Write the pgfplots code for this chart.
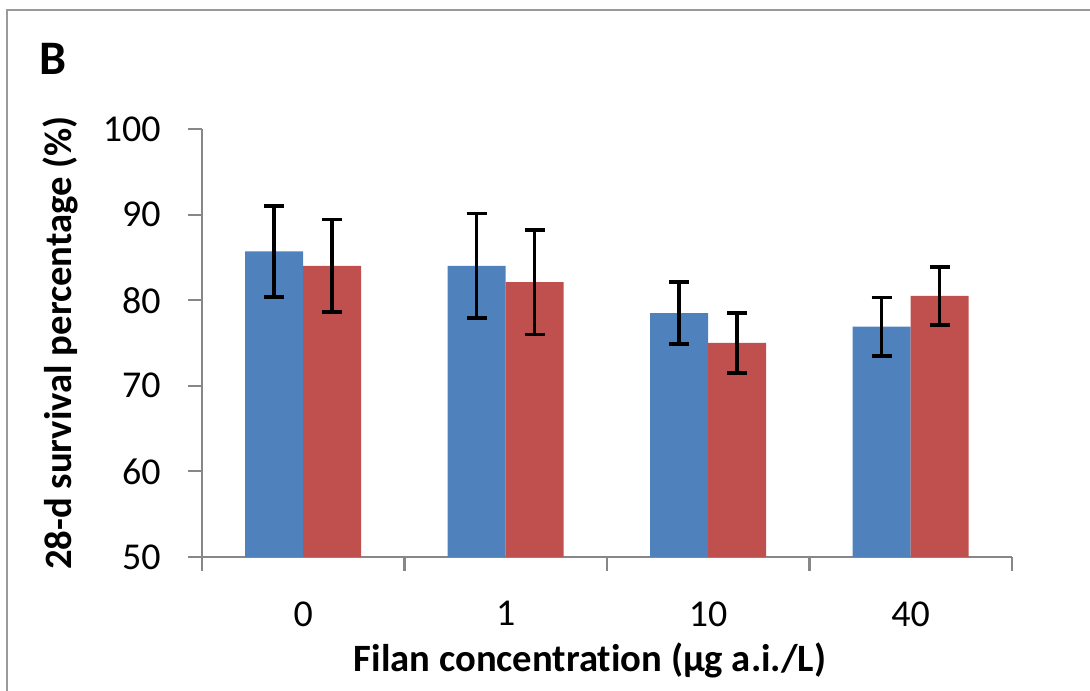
\documentclass[border=0pt]{standalone}
\usepackage{pgfplots}
\pgfplotsset{compat=1.18}
\usepackage{pgfplotstable}
\usepackage{fontspec}
\setmainfont{Carlito}[Ligatures={NoCommon}]

\definecolor{xlblue}{HTML}{4F81BD}
\definecolor{xlred}{HTML}{C0504D}
\definecolor{axgray}{HTML}{878787}
\definecolor{framegray}{HTML}{9A9A9A}

% x = concentration index, mean and error for the two series
\pgfplotstableread{
x  a     ae   b     be
0  85.7  5.3  84.0  5.4
1  84.0  6.1  82.1  6.1
2  78.5  3.6  75.0  3.5
3  76.9  3.4  80.5  3.4
}\survival

\begin{document}
\begin{tikzpicture}
\useasboundingbox (0,0) rectangle (10.9,6.91);
% chart area frame (cut off at right and bottom)
\draw[framegray, line width=0.7pt] (0.07,-0.2) -- (0.07,6.81) -- (11.1,6.81);
\node[anchor=base west, font=\fontsize{13.7}{16}\selectfont\bfseries, inner sep=0pt] at (0.39,6.16) {B};

\begin{axis}[
  at={(2.02cm,1.34cm)}, anchor=south west,
  scale only axis, width=8.10cm, height=4.28cm,
  ybar=0pt, bar width=0.58cm,
  axis lines*=left,
  axis line style={axgray, line width=0.6pt},
  xmin=-0.5, xmax=3.5, ymin=50, ymax=100,
  xtick={-0.5,0.5,1.5,2.5,3.5},
  x tick label as interval,
  xticklabels={0,1,10,40},
  ytick={50,60,...,100},
  tick align=outside,
  major tick length=0.14cm,
  tick style={axgray, line width=0.6pt},
  /pgf/number format/assume math mode=true,
  ticklabel style={font=\fontsize{10.8}{13}\selectfont},
  yticklabel style={xshift=-0.15cm},
  xticklabel style={yshift=-0.18cm},
  label style={font=\fontsize{11}{13}\selectfont\bfseries},
  xlabel={Filan concentration (µg a.i./L)},
  ylabel={28-d survival percentage (\%)},
  xlabel style={at={(axis description cs:0.479,-0.241)}, anchor=center},
  ylabel style={at={(axis description cs:-0.175,0.5)}, anchor=center},
  error bars/error bar style={black, line width=1pt},
  error bars/error mark options={black, line width=1pt, mark size=0.1cm, rotate=90},
]
\addplot[fill=xlblue, draw=none,
  error bars/.cd, y dir=both, y explicit]
  table[x=x, y=a, y error=ae] {\survival};
\addplot[fill=xlred, draw=none,
  error bars/.cd, y dir=both, y explicit]
  table[x=x, y=b, y error=be] {\survival};
\end{axis}
\end{tikzpicture}
\end{document}
